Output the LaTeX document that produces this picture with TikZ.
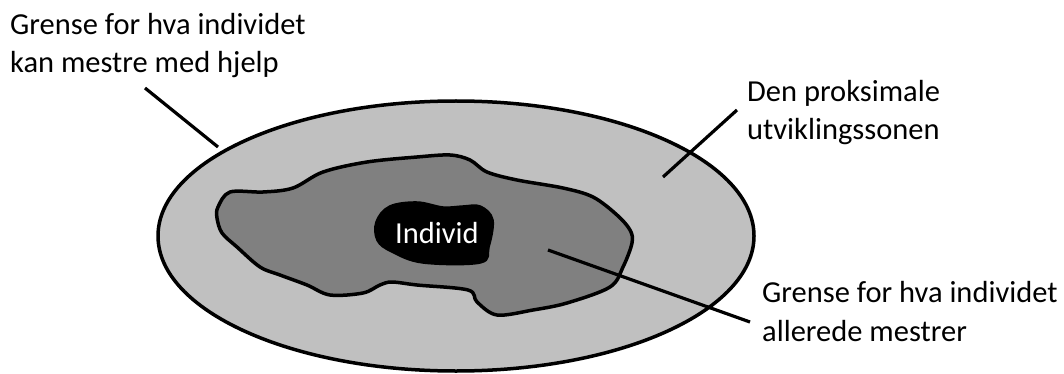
\documentclass[tikz,border=0pt]{standalone}
\usepackage{fontspec}
\setmainfont{Carlito}
\usetikzlibrary{shapes.geometric}
\tikzset{
  lbl/.style={anchor=base west, inner sep=0pt, font=\fontsize{30.5}{34}\selectfont, text=black},
  leader/.style={draw=black, line width=3.2pt},
  rim/.style={draw=black, line width=3.5pt, line join=round},
}
\definecolor{zone}{HTML}{C0C0C0}
\definecolor{mastered}{HTML}{808080}
\begin{document}
\begin{tikzpicture}[x=1pt,y=-1pt]
\useasboundingbox (0,0) rectangle (1064,374);
% outer ellipse
\draw[rim, fill=zone] (456,236) ellipse [x radius=298, y radius=135];
% inner blob
\draw[rim, fill=mastered] plot[smooth cycle, tension=0.55] coordinates {
 (230,192) (218,207) (217,218) (222,233) (237,247) (260,267) (280,275) (307,285)
 (330,295) (363,293) (380,285) (392,282) (417,285) (468,290) (477,302) (497,315)
 (533,310) (567,303) (610,287) (623,267) (632,243) (630,230) (617,215) (593,197)
 (563,188) (517,180) (487,172) (470,160) (450,155) (417,157) (367,162) (323,172)
 (293,188) (263,192)};
% individ blob
\draw[rim, fill=black] plot[smooth cycle, tension=0.6] coordinates {
 (390,207) (377,222) (378,240) (392,251) (423,262) (480,262) (488,247) (492,220)
 (480,207) (463,207) (443,208) (417,203)};
\node (ind) [inner sep=0pt, font=\fontsize{30.5}{34}\selectfont, text=white] at (437,233) {Individ};
% labels
\node (a1) [lbl] at (10,35) {Grense for hva individet};
\node (a2) [lbl] at (10,73) {kan mestre med hjelp};
\node (b1) [lbl] at (747,102) {Den proksimale};
\node (b2) [lbl] at (747,140) {utviklingssonen};
\node (c1) [lbl] at (762,302) {Grense for hva individet};
\node (c2) [lbl] at (762,341) {allerede mestrer};
% leader lines
\coordinate (a0) at (145,88);
\coordinate (ae) at (218,147);
\coordinate (b0) at (737,110);
\coordinate (be) at (663,177);
\coordinate (c0) at (750,322);
\coordinate (ce) at (548,250);
\draw[leader] (a0) -- (ae);
\draw[leader] (b0) -- (be);
\draw[leader] (c0) -- (ce);
\end{tikzpicture}
\end{document}
